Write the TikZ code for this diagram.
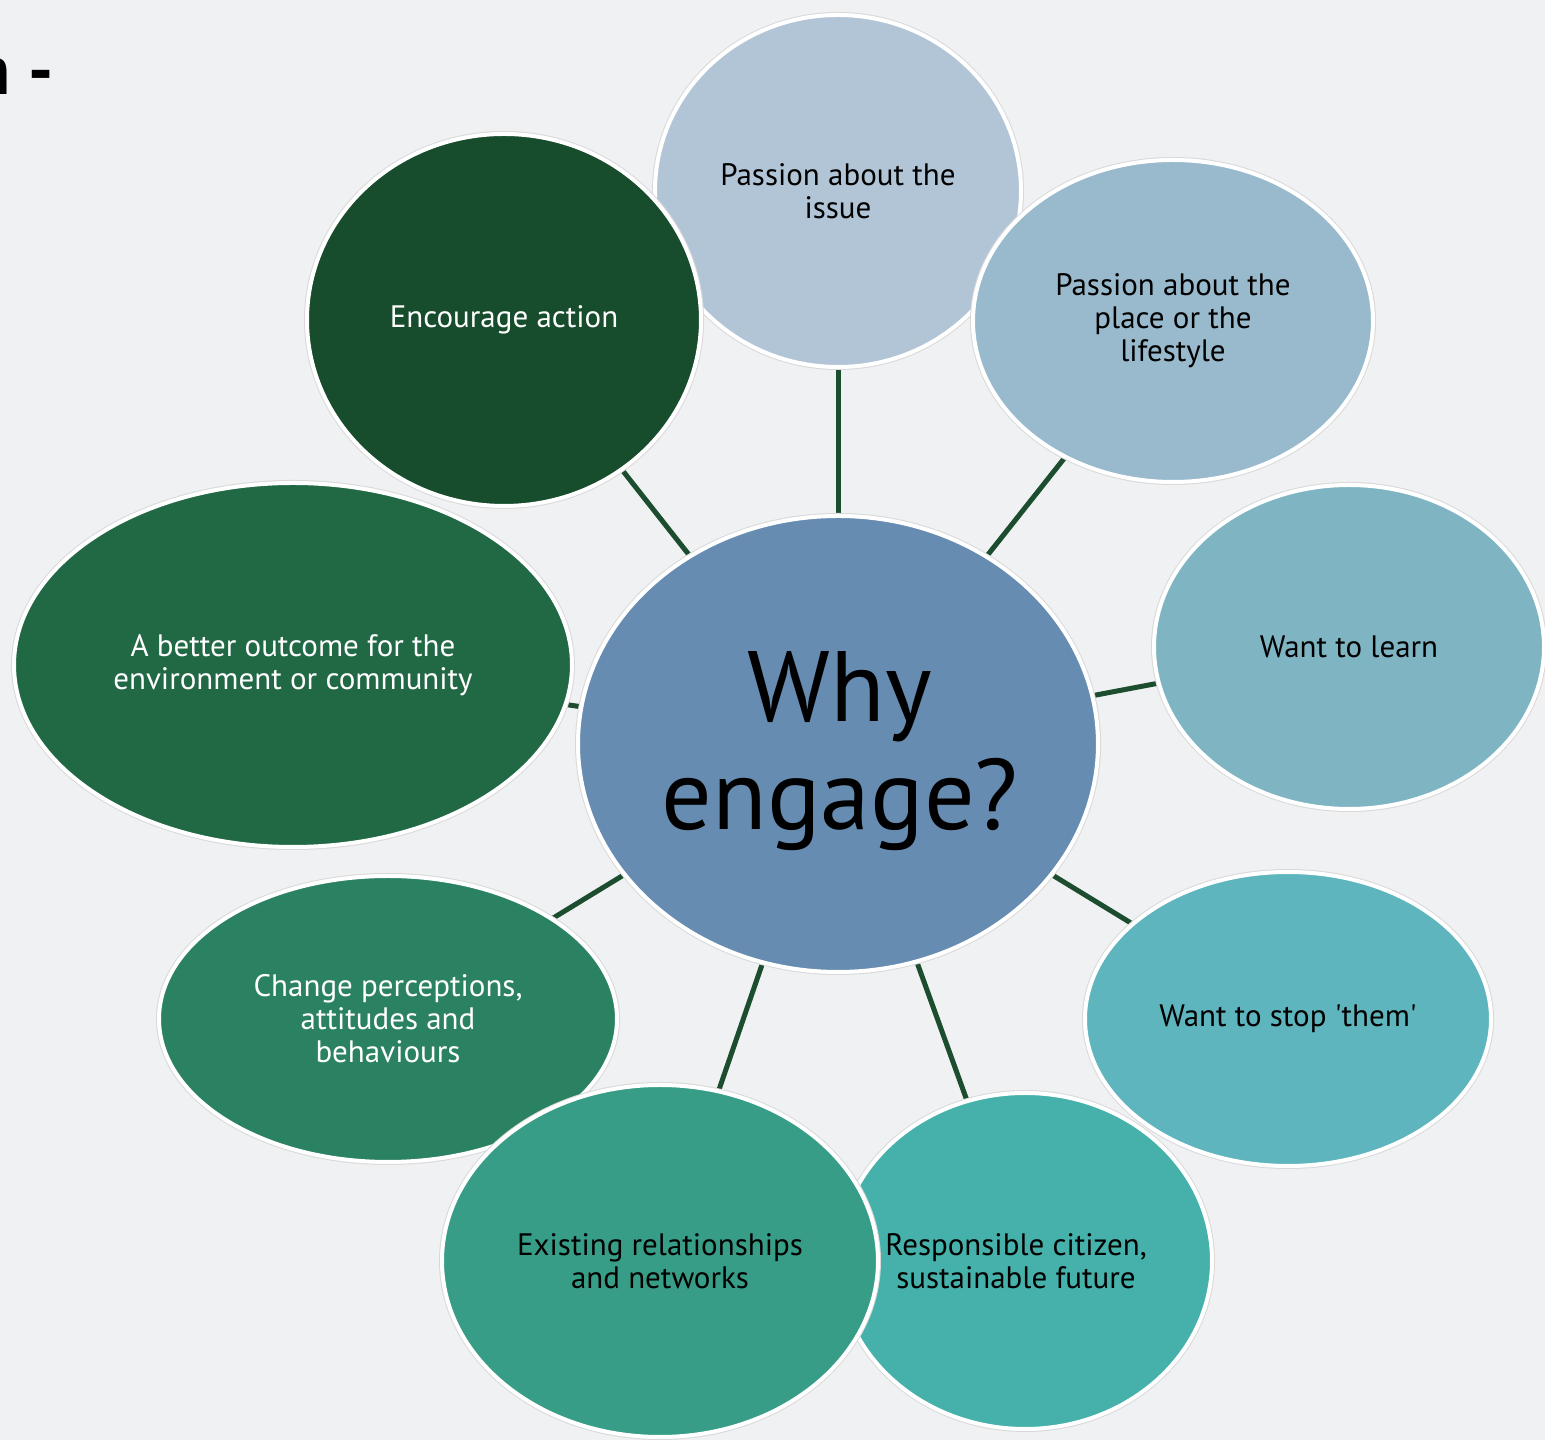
\documentclass[tikz,border=0pt]{standalone}
\usepackage{fontspec}
\setmainfont{PT Sans}
\usetikzlibrary{shapes.geometric}
\pgfdeclarelayer{back}
\pgfdeclarelayer{edges}
\pgfsetlayers{back,edges,main}

\definecolor{pagebg}{HTML}{F0F1F3}
\definecolor{hubcol}{HTML}{678CB1}
\definecolor{issuecol}{HTML}{B2C5D7}
\definecolor{placecol}{HTML}{99BACD}
\definecolor{learncol}{HTML}{7FB5C3}
\definecolor{stopcol}{HTML}{5EB5BD}
\definecolor{respcol}{HTML}{45B1AA}
\definecolor{existcol}{HTML}{389D86}
\definecolor{changecol}{HTML}{2B8263}
\definecolor{bettercol}{HTML}{216845}
\definecolor{enccol}{HTML}{174C2C}
\definecolor{spokecol}{HTML}{1B4D2E}

\begin{document}
\begin{tikzpicture}[x=1pt,y=1pt,
  bubble/.style={ellipse, inner sep=0pt, fill=#1, draw=white, line width=4pt,
    preaction={draw=black!15, line width=6pt}},
  caption/.style={align=center, inner sep=0pt, text=#1,
    font=\fontsize{31}{33}\selectfont},
  spoke/.style={draw=spokecol, line width=5pt}]

\useasboundingbox (0,0) rectangle (1545,1440);
\clip (0,0) rectangle (1545,1440);
\begin{pgfonlayer}{back}
  \fill[pagebg] (0,0) rectangle (1545,1440);
\end{pgfonlayer}

% title fragment at the top left
\node[anchor=base east, inner sep=0pt, font=\fontsize{70}{80}\selectfont\bfseries]
  (title) at (54,1345) {n -};

% hub
\node[bubble=hubcol, minimum width=520, minimum height=456] (hub) at (838,696) {};

% outer bubbles, in stacking order
\node[bubble=issuecol, minimum width=366, minimum height=352] (issue) at (838,1249) {};
\node[bubble=placecol, minimum width=400, minimum height=322] (place) at (1173,1119) {};
\node[bubble=learncol, minimum width=390, minimum height=324] (learn) at (1349,793) {};
\node[bubble=stopcol, minimum width=406, minimum height=294] (stop) at (1288,421) {};
\node[bubble=respcol, minimum width=374, minimum height=336] (resp) at (1025,179) {};
\node[bubble=changecol, minimum width=458, minimum height=286] (change) at (388,421) {};
\node[bubble=existcol, minimum width=436, minimum height=352] (exist) at (660,179) {};
\node[bubble=bettercol, minimum width=558, minimum height=364] (better) at (293,775) {};
\node[bubble=enccol, minimum width=394, minimum height=372] (enc) at (504,1120) {};

% spokes, kept under the bubbles
\begin{pgfonlayer}{edges}
  \foreach \t in {issue,place,learn,stop,resp,exist,change,better,enc}
    \draw[spoke] (hub.center) -- (\t.center);
\end{pgfonlayer}

% captions
\node[align=center, inner sep=0pt, font=\fontsize{100}{108}\selectfont]
  (hubtext) at (840,689) {Why\\engage?};
\node[caption=black] (issuetext) at (issue) {Passion about the\\issue};
\node[caption=black] (placetext) at (place) {Passion about the\\place or the\\lifestyle};
\node[caption=black] (learntext) at (learn) {Want to learn};
\node[caption=black] (stoptext) at (stop) {Want to stop \textquotesingle them\textquotesingle};
\node[caption=black] (resptext) at (1016,179) {Responsible citizen,\\sustainable future};
\node[caption=black] (existtext) at (exist) {Existing relationships\\and networks};
\node[caption=white] (changetext) at (change) {Change perceptions,\\attitudes and\\behaviours};
\node[caption=white] (bettertext) at (better) {A better outcome for the\\environment or community};
\node[caption=white] (enctext) at (enc) {Encourage action};
\end{tikzpicture}
\end{document}
